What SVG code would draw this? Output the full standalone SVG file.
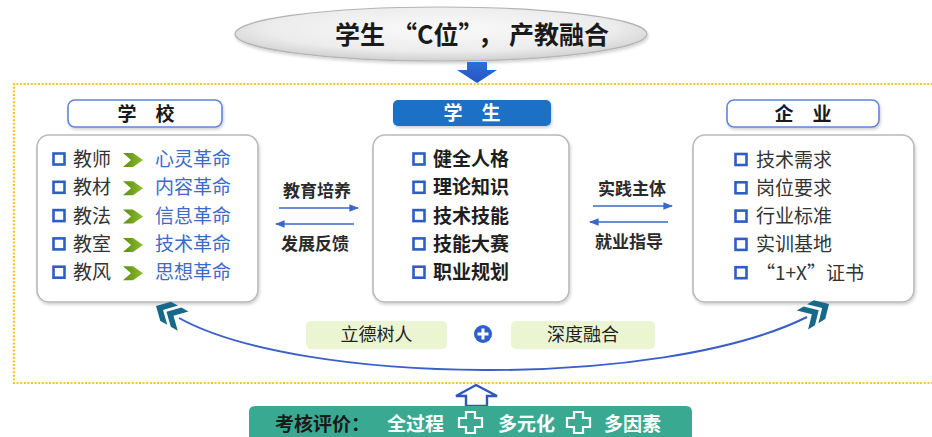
<svg xmlns="http://www.w3.org/2000/svg" width="932" height="437" viewBox="0 0 932 437">
<style>
text{font-family:"Noto Sans CJK SC","Liberation Sans",sans-serif;}
.box{fill:#fff;stroke:#b9b9b9;stroke-width:1.6;}
.hdr{fill:#fff;stroke:#5f86d6;stroke-width:1.6;}
.ht{font-size:19px;font-weight:bold;fill:#1a1a1a;text-anchor:middle;}
.sq{fill:none;stroke:#2d5ec6;stroke-width:2.6;}
.it{font-size:19px;fill:#333;}
.itb{font-size:19px;font-weight:bold;fill:#1e1e1e;}
.bl{font-size:19px;fill:#3b6cc9;}
.ml{font-size:17px;font-weight:bold;fill:#2a2a2a;text-anchor:middle;}
.ar{stroke:#3a68c8;stroke-width:1.6;fill:none;}
.chev{fill:url(#gg);}
.dot{stroke:#f3c623;stroke-width:2.2;stroke-dasharray:2 1.6;fill:none;}
.gb{fill:#ebf5d2;}
.gt{font-size:18px;fill:#222;text-anchor:middle;}
.bt{font-size:19px;font-weight:bold;fill:#fff;}
</style>
<defs>
<radialGradient id="eg" cx="50%" cy="40%" r="60%">
<stop offset="0" stop-color="#fafafa"/><stop offset="0.7" stop-color="#ececec"/><stop offset="1" stop-color="#cfcfcf"/>
</radialGradient>
<linearGradient id="bg" x1="0" y1="0" x2="0" y2="1"><stop offset="0" stop-color="#2e6fd8"/><stop offset="1" stop-color="#2553c4"/></linearGradient>
<linearGradient id="gg" x1="0" y1="0" x2="1" y2="0"><stop offset="0" stop-color="#5b8d12"/><stop offset="1" stop-color="#8fbd2c"/></linearGradient>
<marker id="ah" viewBox="0 0 10 10" refX="9" refY="5" markerWidth="6" markerHeight="6" orient="auto-start-reverse"><path d="M0,1 L10,5 L0,9 Z" fill="#3a68c8"/></marker>
<filter id="sh" x="-10%" y="-10%" width="120%" height="130%"><feDropShadow dx="1" dy="2" stdDeviation="1.5" flood-color="#000" flood-opacity="0.18"/></filter>
<g id="dchev"><path d="M0,0 L-11,-11 L-19,-11 L-8,0 L-19,11 L-11,11 Z M-12,0 L-23,-11 L-31,-11 L-20,0 L-31,11 L-23,11 Z" fill="#17698a"/></g>
<g id="sqb"><rect x="0" y="0" width="11" height="11" class="sq"/></g>
<path id="chv" d="M0,-7 L10,-7 L20,0 L10,7 L0,7 L8,0 Z"/>
</defs>

<!-- dotted frame -->
<path class="dot" d="M940,84 H14 V383 H940"/>

<!-- top title -->
<g id="title">
<ellipse cx="441" cy="34" rx="206" ry="27" fill="url(#eg)" stroke="#b4b4b4" stroke-width="1.2" filter="url(#sh)"/>
<text x="335" y="44" font-size="25" font-weight="bold" fill="#1a1a1a">学生<tspan dx="7">“C位”</tspan><tspan dx="7">，</tspan><tspan dx="6">产教融合</tspan></text>
</g>
<g id="down-arrow">
<path d="M467,62 H487 V70 H497 L477,83 L457,70 H467 Z" fill="url(#bg)"/>
</g>

<!-- school -->
<g id="school">
<rect x="68" y="100" width="154" height="27" rx="7" class="hdr" filter="url(#sh)"/>
<text x="146" y="121" class="ht">学　校</text>
<rect x="37" y="135" width="221" height="167" rx="12" class="box" filter="url(#sh)"/>
<use href="#sqb" x="53.5" y="153.5"/><use href="#sqb" x="53.5" y="181.8"/><use href="#sqb" x="53.5" y="210.1"/><use href="#sqb" x="53.5" y="238.4"/><use href="#sqb" x="53.5" y="266.7"/>
<text x="73" y="166" class="it">教师</text>
<text x="73" y="194.3" class="it">教材</text>
<text x="73" y="222.6" class="it">教法</text>
<text x="73" y="250.9" class="it">教室</text>
<text x="73" y="279.2" class="it">教风</text>
<use href="#chv" x="123" y="160" class="chev"/>
<use href="#chv" x="123" y="188.3" class="chev"/>
<use href="#chv" x="123" y="216.6" class="chev"/>
<use href="#chv" x="123" y="244.9" class="chev"/>
<use href="#chv" x="123" y="273.2" class="chev"/>
<text x="155" y="166" class="bl">心灵革命</text>
<text x="155" y="194.3" class="bl">内容革命</text>
<text x="155" y="222.6" class="bl">信息革命</text>
<text x="155" y="250.9" class="bl">技术革命</text>
<text x="155" y="279.2" class="bl">思想革命</text>
</g>

<!-- student -->
<g id="student">
<rect x="393" y="100" width="158" height="26" rx="5" fill="#1b6fc6" filter="url(#sh)"/>
<text x="472" y="120" class="ht" style="fill:#fff">学　生</text>
<rect x="373" y="135" width="196" height="167" rx="12" class="box" filter="url(#sh)"/>
<use href="#sqb" x="413.5" y="153.5"/><use href="#sqb" x="413.5" y="181.8"/><use href="#sqb" x="413.5" y="210.1"/><use href="#sqb" x="413.5" y="238.4"/><use href="#sqb" x="413.5" y="266.7"/>
<text x="433" y="166" class="itb">健全人格</text>
<text x="433" y="194.3" class="itb">理论知识</text>
<text x="433" y="222.6" class="itb">技术技能</text>
<text x="433" y="250.9" class="itb">技能大赛</text>
<text x="433" y="279.2" class="itb">职业规划</text>
</g>

<!-- enterprise -->
<g id="enterprise">
<rect x="727" y="100" width="152" height="27" rx="7" class="hdr" filter="url(#sh)"/>
<text x="803" y="121" class="ht">企　业</text>
<rect x="693" y="135" width="221" height="167" rx="12" class="box" filter="url(#sh)"/>
<use href="#sqb" x="735.5" y="154"/><use href="#sqb" x="735.5" y="182.3"/><use href="#sqb" x="735.5" y="210.6"/><use href="#sqb" x="735.5" y="238.9"/><use href="#sqb" x="735.5" y="267.2"/>
<text x="756" y="166.5" class="it">技术需求</text>
<text x="756" y="194.8" class="it">岗位要求</text>
<text x="756" y="223.1" class="it">行业标准</text>
<text x="756" y="251.4" class="it">实训基地</text>
<text x="756" y="279.7" class="it">“1+X”证书</text>
</g>

<!-- connectors -->
<g id="connectors">
<text x="317" y="197" class="ml">教育培养</text>
<line x1="279" y1="208" x2="358" y2="208" class="ar" marker-end="url(#ah)"/>
<line x1="276" y1="224" x2="354" y2="224" class="ar" marker-start="url(#ah)"/>
<text x="315" y="250" class="ml">发展反馈</text>
<text x="632" y="195" class="ml">实践主体</text>
<line x1="593" y1="206" x2="672" y2="206" class="ar" marker-end="url(#ah)"/>
<line x1="590" y1="222" x2="668" y2="222" class="ar" marker-start="url(#ah)"/>
<text x="629" y="248" class="ml">就业指导</text>
<path d="M179,318 C300,385 660,390 807,317" fill="none" stroke="#3a5fc8" stroke-width="2"/>
<use href="#dchev" transform="translate(156,306) rotate(-151)"/>
<use href="#dchev" transform="translate(829,304) rotate(-31)"/>
</g>

<!-- middle labels -->
<g id="values">
<rect x="306" y="321" width="141" height="28" rx="5" class="gb"/>
<text x="376.5" y="341" class="gt">立德树人</text>
<circle cx="483" cy="334" r="9" fill="#2f5fc8"/>
<path d="M477.5,334 H488.5 M483,328.5 V339.5" stroke="#fff" stroke-width="3"/>
<rect x="511" y="321" width="144" height="28" rx="5" class="gb"/>
<text x="583" y="341" class="gt">深度融合</text>
</g>

<!-- up arrow -->
<g id="up-arrow">
<path d="M476,385 L497,396 H487 V406 H466 V396 H456 Z" fill="#fff" stroke="#2f55c0" stroke-width="2.4" stroke-linejoin="miter"/>
</g>

<!-- evaluation bar -->
<g id="evaluation">
<path d="M249,440 V412 Q249,406 255,406 H686 Q692,406 692,412 V440 Z" fill="#3aa992"/>
<text x="275" y="431" font-size="19" font-weight="bold" fill="#1a1a1a">考核评价：</text>
<text x="387" y="431" class="bt">全过程</text>
<path d="M466,412 H475 V418 H482 V427 H475 V433 H466 V427 H459 V418 H466 Z" fill="none" stroke="#fff" stroke-width="2.2"/>
<text x="498" y="431" class="bt">多元化</text>
<path d="M574,412 H583 V418 H590 V427 H583 V433 H574 V427 H567 V418 H574 Z" fill="none" stroke="#fff" stroke-width="2.2"/>
<text x="604" y="431" class="bt">多因素</text>
</g>
</svg>
